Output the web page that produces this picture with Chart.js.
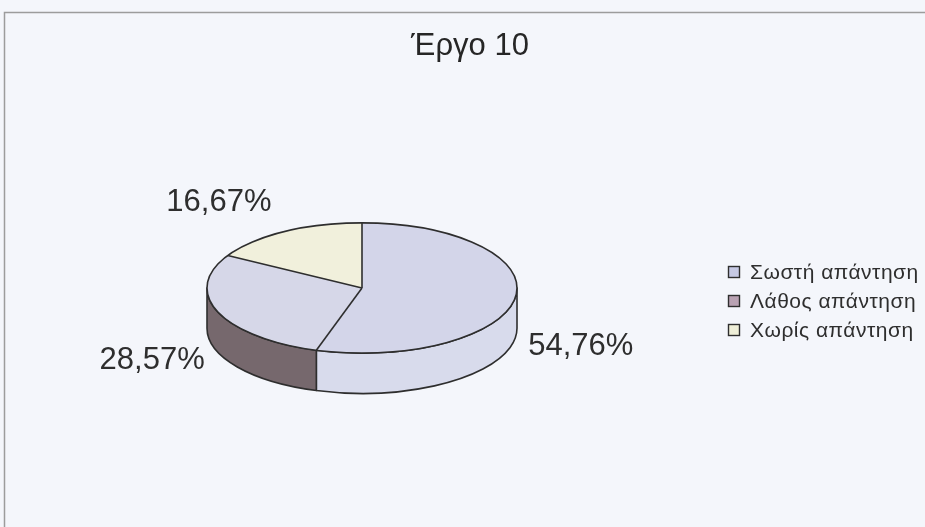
<!DOCTYPE html>
<html>
<head>
<meta charset="utf-8">
<script src="https://cdn.jsdelivr.net/npm/chart.js@4"></script>
<style>
  html, body { margin: 0; padding: 0; background: #f4f6fb; }
  #wrap { width: 925px; height: 527px; }
</style>
</head>
<body>
<div id="wrap"><canvas id="pie"></canvas></div>
<script>
const chartTitle = 'Έργο 10';
const categories = ['Σωστή απάντηση', 'Λάθος απάντηση', 'Χωρίς απάντηση'];
const percents = [54.76, 28.57, 16.67];

// face / wall / legend colours per category
const topColors = ['#d3d5e9', '#d6d7e8', '#f1f0dc'];
const sideColors = ['#d8dbec', '#76686d', '#e9e9d2'];
const swatchColors = ['#c6c9e4', '#b9a2b3', '#efefd8'];

const TILT = 0.42;        // vertical squash of the disc
const DEPTH_RATIO = 0.26; // wall height relative to radius
const INK = '#2e2e2e';
const FONT = '"Liberation Sans", Arial, sans-serif';

const fmt = v => v.toFixed(2).replace('.', ',') + '%';

function geometry(chart) {
  const arcs = chart.getDatasetMeta(0).data;
  const p = arcs[0].getProps(['x', 'y', 'outerRadius'], true);
  return { arcs, cx: p.x, cy: p.y, a: p.outerRadius, b: p.outerRadius * TILT, depth: p.outerRadius * DEPTH_RATIO };
}

const pie3d = {
  id: 'pie3d',
  beforeDraw(chart) {
    const ctx = chart.ctx;
    ctx.save();
    ctx.strokeStyle = '#9c9c9c';
    ctx.lineWidth = 1.5;
    ctx.beginPath();
    ctx.moveTo(4.5, chart.height + 2);
    ctx.lineTo(4.5, 12.5);
    ctx.lineTo(chart.width + 2, 12.5);
    ctx.stroke();
    ctx.restore();
  },
  beforeDatasetsDraw(chart) {
    const ctx = chart.ctx;
    const { arcs, cx, cy, a, b, depth } = geometry(chart);
    ctx.save();
    ctx.lineWidth = 1.6;
    ctx.strokeStyle = INK;
    ctx.lineJoin = 'round';
    // outer walls, only the part facing the viewer (angles 0..PI)
    arcs.forEach((arc, i) => {
      const { startAngle: s, endAngle: e } = arc.getProps(['startAngle', 'endAngle'], true);
      for (let k = -1; k <= 1; k++) {
        const lo = Math.max(s, 2 * Math.PI * k);
        const hi = Math.min(e, 2 * Math.PI * k + Math.PI);
        if (hi <= lo) continue;
        ctx.beginPath();
        ctx.ellipse(cx, cy, a, b, 0, lo, hi);
        ctx.ellipse(cx, cy + depth, a, b, 0, hi, lo, true);
        ctx.closePath();
        ctx.fillStyle = sideColors[i];
        ctx.fill();
        ctx.stroke();
      }
    });
    ctx.restore();
    // squash the top faces drawn by the controller
    ctx.save();
    ctx.translate(cx, cy);
    ctx.scale(1, TILT);
    ctx.translate(-cx, -cy);
  },
  afterDatasetsDraw(chart) {
    const ctx = chart.ctx;
    ctx.restore();
    const { arcs, cx, cy, a, b, depth } = geometry(chart);
    ctx.save();
    ctx.lineWidth = 1.6;
    ctx.strokeStyle = INK;
    ctx.beginPath();
    ctx.ellipse(cx, cy, a, b, 0, 0, 2 * Math.PI);
    ctx.stroke();
    arcs.forEach(arc => {
      const t = arc.getProps(['startAngle'], true).startAngle;
      ctx.beginPath();
      ctx.moveTo(cx, cy);
      ctx.lineTo(cx + a * Math.cos(t), cy + b * Math.sin(t));
      ctx.stroke();
    });

    // percentage labels just outside each slice (front ones beside the wall)
    ctx.font = '31px ' + FONT;
    ctx.fillStyle = INK;
    ctx.textAlign = 'center';
    ctx.textBaseline = 'middle';
    arcs.forEach((arc, i) => {
      const { startAngle: s, endAngle: e } = arc.getProps(['startAngle', 'endAngle'], true);
      const mid = (s + e) / 2;
      const c = Math.cos(mid), sn = Math.sin(mid);
      const px = cx + a * c;
      const py = cy + b * sn + (sn > 0 ? depth / 2 : 0);
      const text = fmt(percents[i]);
      const w = ctx.measureText(text).width;
      ctx.fillText(text, px + Math.sign(c) * (w / 2 + 13), py + Math.sign(sn) * 29);
    });

    // title
    ctx.font = '31px ' + FONT;
    ctx.fillStyle = '#262626';
    ctx.fillText(chartTitle, 470, 46);

    // legend
    ctx.font = '21px ' + FONT;
    ctx.letterSpacing = '0.5px';
    ctx.textAlign = 'left';
    categories.forEach((name, i) => {
      const y = 272 + i * 29;
      ctx.fillStyle = swatchColors[i];
      ctx.fillRect(728.5, y - 5.5, 11, 11);
      ctx.lineWidth = 1.4;
      ctx.strokeStyle = INK;
      ctx.strokeRect(728.5, y - 5.5, 11, 11);
      ctx.fillStyle = INK;
      ctx.fillText(name, 750, y + 1);
    });
    ctx.restore();
  }
};

new Chart(document.getElementById('pie'), {
  type: 'pie',
  data: {
    labels: categories,
    datasets: [{
      data: percents,
      backgroundColor: topColors,
      borderWidth: 0,
      hoverOffset: 0,
      radius: 155
    }]
  },
  options: {
    responsive: true,
    maintainAspectRatio: false,
    animation: false,
    events: [],
    layout: { padding: { left: 207, right: 408, top: 133, bottom: 84 } },
    plugins: {
      legend: { display: false },
      title: { display: false },
      tooltip: { enabled: false }
    }
  },
  plugins: [pie3d]
});
</script>
</body>
</html>
